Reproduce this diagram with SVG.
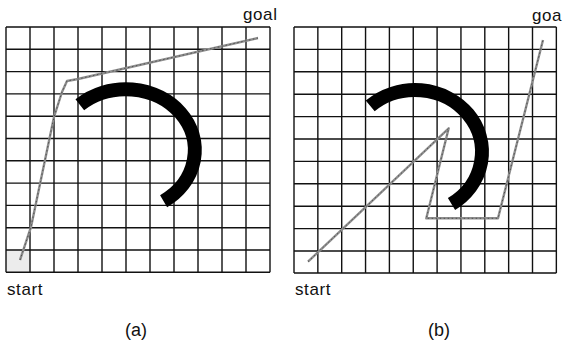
<svg xmlns="http://www.w3.org/2000/svg" width="563" height="343" viewBox="0 0 563 343">
<style>
.grid{fill:none;stroke:#111;stroke-width:1.4}
.obst{fill:none;stroke:#000;stroke-width:14;stroke-linecap:butt}
.route{fill:none;stroke:#8e8e8e;stroke-width:2.4;stroke-linejoin:round}
.routecore{fill:none;stroke:#4a4a4a;stroke-width:0.9;stroke-dasharray:1.5 2.5}
.lbl{font-family:"Liberation Sans",Arial,sans-serif;font-size:17px;fill:#111;letter-spacing:0.6px}
.cap{font-family:"Liberation Sans",Arial,sans-serif;font-size:18px;fill:#111}
</style>
<rect width="563" height="343" fill="#fff"/>
<g id="panel-a">
  <rect x="6" y="250" width="24" height="22.3" fill="#ececec"/>
  <path class="grid" d="M6 27V272.3M30 27V272.3M54 27V272.3M78 27V272.3M102 27V272.3M126 27V272.3M150 27V272.3M174 27V272.3M198 27V272.3M222 27V272.3M246 27V272.3M270 27V272.3M6 27H270M6 49.3H270M6 71.6H270M6 93.9H270M6 116.2H270M6 138.5H270M6 160.8H270M6 183.1H270M6 205.4H270M6 227.7H270M6 250H270M6 272.3H270"/>
  <path id="obstacle-a" class="obst" d="M79.8 104.7 A69 61 0 1 1 163.6 201.2"/>
  <text class="lbl" x="243" y="20">goal</text>
  <text class="lbl" x="7" y="295">start</text>
  <text class="cap" x="125" y="336">(a)</text>
</g>
<g id="panel-b">
  <path class="grid" d="M294 27V273M317.85 27V273M341.7 27V273M365.55 27V273M389.4 27V273M413.25 27V273M437.1 27V273M460.95 27V273M484.8 27V273M508.65 27V273M532.5 27V273M556.35 27V273M294 27H556.35M294 49.4H556.35M294 71.8H556.35M294 94.2H556.35M294 116.6H556.35M294 139H556.35M294 161.4H556.35M294 183.8H556.35M294 206.2H556.35M294 228.6H556.35M294 251H556.35M294 273H556.35"/>
  <path id="obstacle-b" class="obst" d="M370.2 105.9 A67 62 0 1 1 451.5 204"/>
  <text class="lbl" x="532" y="21">goa</text>
  <text class="lbl" x="295" y="295">start</text>
  <text class="cap" x="428" y="336">(b)</text>
</g>
<g id="connectors">
  <g id="route-a">
    <path class="route" d="M20 260 L31 227 L54 117 L62 92 L67 81 L78 79 L258 38"/>
    <path class="routecore" d="M20 260 L31 227 L54 117 L62 92 L67 81 L78 79 L258 38"/>
  </g>
  <g id="route-b">
    <path class="route" d="M308 261.7 L448.7 128.3 L426.3 218.3 L498 218.3 L543 40"/>
    <path class="routecore" d="M308 261.7 L448.7 128.3 L426.3 218.3 L498 218.3 L543 40"/>
  </g>
</g>
</svg>
